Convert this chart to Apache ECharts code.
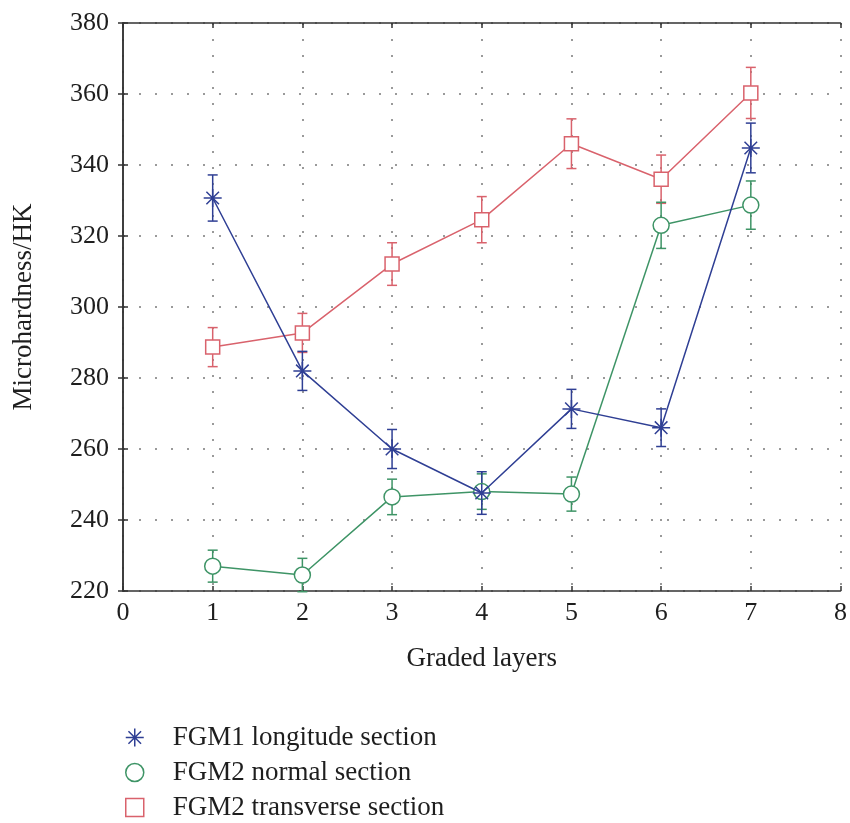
<!DOCTYPE html>
<html>
<head>
<meta charset="utf-8">
<script src="https://cdn.jsdelivr.net/npm/echarts@6/dist/echarts.min.js"></script>
<style>
  html, body { margin: 0; padding: 0; background: #fff; }
  #chart { width: 850px; height: 823px; }
</style>
</head>
<body>
<div id="chart"></div>
<script>
  // graded layer index
  const layers = [1, 2, 3, 4, 5, 6, 7]
  const xTicks = [0, 1, 2, 3, 4, 5, 6, 7, 8]
  const yTicks = [220, 240, 260, 280, 300, 320, 340, 360, 380]

  // microhardness mean values
  const fgm1Long = [330.7, 282, 260, 247.6, 271.3, 266, 344.8]
  const fgm2Normal = [227, 224.5, 246.5, 248, 247.3, 323, 328.7]
  const fgm2Trans = [288.7, 292.7, 312.1, 324.6, 346, 336, 360.3]

  // error bar half-widths
  const fgm1Err = [6.5, 5.5, 5.5, 6, 5.5, 5.3, 7]
  const fgm2NormalErr = [4.5, 4.7, 5, 5, 4.8, 6.5, 6.8]
  const fgm2TransErr = [5.5, 5.5, 6, 6.5, 7, 6.8, 7.2]

  const names = ['FGM1 longitude section', 'FGM2 normal section', 'FGM2 transverse section']
  const colors = ['#2f3f94', '#3e9466', '#d9626c']

  const asterisk = 'path://M0,-10L0,10M-10,0L10,0M-7,-7L7,7M-7,7L7,-7'
  const square = 'path://M0,0L10,0L10,10L0,10Z'
  const serif = '"Liberation Serif", "DejaVu Serif", serif'

  function pairs(vals) {
    return layers.map((x, i) => [x, vals[i]])
  }
  function bars(vals, errs) {
    return layers.map((x, i) => [x, vals[i] - errs[i], vals[i] + errs[i]])
  }

  function errorSeries(vals, errs, color, z) {
    return {
      type: 'custom',
      z: z,
      silent: true,
      data: bars(vals, errs),
      renderItem: function (params, api) {
        const x = api.value(0)
        const lo = api.coord([x, api.value(1)])
        const hi = api.coord([x, api.value(2)])
        const cap = 5
        const st = { stroke: color, lineWidth: 1.5 }
        return {
          type: 'group',
          children: [
            { type: 'line', shape: { x1: lo[0], y1: lo[1], x2: hi[0], y2: hi[1] }, style: st },
            { type: 'line', shape: { x1: lo[0] - cap, y1: lo[1], x2: lo[0] + cap, y2: lo[1] }, style: st },
            { type: 'line', shape: { x1: hi[0] - cap, y1: hi[1], x2: hi[0] + cap, y2: hi[1] }, style: st }
          ]
        }
      }
    }
  }

  const tickLabel = { color: '#1e1e1e', fontFamily: serif, fontSize: 26 }
  const frameLine = { show: true, lineStyle: { color: '#333', width: 1.5 } }
  const innerTick = { show: true, inside: true, length: 5, lineStyle: { color: '#333', width: 1.5 } }
  const dotted = { show: true, lineStyle: { color: '#9a9a9a', width: 2, type: [2, 14] } }

  const option = {
    backgroundColor: '#fff',
    animation: false,
    grid: { left: 123, right: 7, top: 23, bottom: 232 },
    legend: {
      orient: 'vertical',
      left: 125,
      top: 724,
      padding: 0,
      itemGap: 8,
      itemWidth: 40,
      itemHeight: 18,
      textStyle: { color: '#1e1e1e', fontFamily: serif, fontSize: 27, padding: [0, 0, 0, 13] },
      data: [
        { name: names[0], icon: asterisk, itemStyle: { color: colors[0], borderColor: colors[0], borderWidth: 1.5 } },
        { name: names[1], icon: 'circle', itemStyle: { color: '#fff', borderColor: colors[1], borderWidth: 1.5 } },
        { name: names[2], icon: square, itemStyle: { color: '#fff', borderColor: colors[2], borderWidth: 1.5 } }
      ]
    },
    xAxis: [
      {
        type: 'value', min: xTicks[0], max: xTicks[xTicks.length - 1], interval: 1,
        name: 'Graded layers', nameLocation: 'middle', nameGap: 54,
        nameTextStyle: { color: '#1e1e1e', fontFamily: serif, fontSize: 27 },
        axisLine: frameLine, axisTick: innerTick,
        axisLabel: Object.assign({ margin: 9 }, tickLabel),
        splitLine: dotted
      },
      {
        type: 'value', position: 'top', min: xTicks[0], max: xTicks[xTicks.length - 1], interval: 1,
        axisLine: frameLine, axisTick: innerTick, axisLabel: { show: false }, splitLine: { show: false }
      }
    ],
    yAxis: [
      {
        type: 'value', min: yTicks[0], max: yTicks[yTicks.length - 1], interval: 20,
        name: 'Microhardness/HK', nameLocation: 'middle', nameGap: 86,
        nameTextStyle: { color: '#1e1e1e', fontFamily: serif, fontSize: 27 },
        axisLine: frameLine, axisTick: innerTick,
        axisLabel: Object.assign({ margin: 14 }, tickLabel),
        splitLine: dotted
      },
      {
        type: 'value', position: 'right', min: yTicks[0], max: yTicks[yTicks.length - 1], interval: 20,
        axisLine: frameLine, axisTick: innerTick, axisLabel: { show: false }, splitLine: { show: false }
      }
    ],
    series: [
      errorSeries(fgm2Trans, fgm2TransErr, colors[2], 2),
      errorSeries(fgm2Normal, fgm2NormalErr, colors[1], 2),
      errorSeries(fgm1Long, fgm1Err, colors[0], 2),
      {
        name: names[2], type: 'line', z: 3, data: pairs(fgm2Trans),
        symbol: 'rect', symbolSize: 14,
        lineStyle: { color: colors[2], width: 1.5 },
        itemStyle: { color: '#fff', borderColor: colors[2], borderWidth: 1.5 }
      },
      {
        name: names[1], type: 'line', z: 3, data: pairs(fgm2Normal),
        symbol: 'circle', symbolSize: 16,
        lineStyle: { color: colors[1], width: 1.5 },
        itemStyle: { color: '#fff', borderColor: colors[1], borderWidth: 1.5 }
      },
      {
        name: names[0], type: 'line', z: 4, data: pairs(fgm1Long),
        symbol: asterisk, symbolSize: 18,
        lineStyle: { color: colors[0], width: 1.5 },
        itemStyle: { color: colors[0], borderColor: colors[0], borderWidth: 1.5 }
      }
    ]
  }

  const myChart = echarts.init(document.getElementById('chart'))
  myChart.setOption(option)
  window.onresize = myChart.resize
</script>
</body>
</html>
